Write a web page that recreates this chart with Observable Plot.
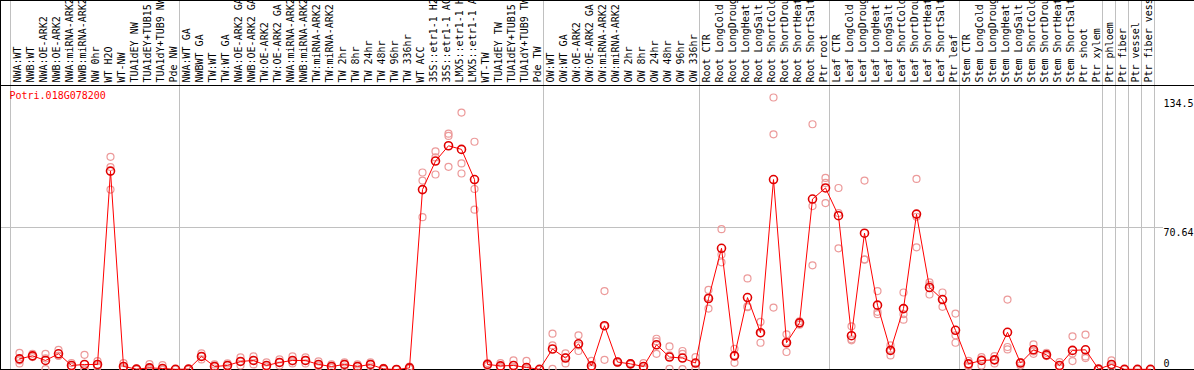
<!DOCTYPE html>
<html><head><meta charset="utf-8">
<script src="https://cdn.jsdelivr.net/npm/d3@7"></script>
<script src="https://cdn.jsdelivr.net/npm/@observablehq/plot@0.6"></script>
<style>body{margin:0;background:#fff} svg{display:block}</style>
</head><body><div id="chart"></div>
<script>
const geneId = "Potri.018G078200";
const labels = ["NWA:WT","NWB:WT","NWA:OE-ARK2","NWB:OE-ARK2","NWA:miRNA-ARK2","NWB:miRNA-ARK2","NW 0hr","WT H2O","WT-NW","TUA1dEY NW","TUA1dEY+TUB15","TUA1dY+TUB9 NW","Pde NW",
"NWA:WT GA","NWBWT GA","TW:WT","TW:WT GA","NWA:OE-ARK2 GA","NWB:OE-ARK2 GA","TW:OE-ARK2","TW:OE-ARK2 GA","NWA:miRNA-ARK2","NWB:miRNA-ARK2","TW:miRNA-ARK2","TW:miRNA-ARK2","TW 2hr","TW 8hr","TW 24hr","TW 48hr","TW 96hr","TW 336hr","WT ACC","35S::etr1-1 H2O","35S::etr1-1 ACC","LMX5::etr1-1 H2O","LMX5::etr1-1 ACC","WT-TW","TUA1dEY TW","TUA1dEY+TUB15","TUA1dY+TUB9 TW","Pde TW",
"OW:WT","OW:WT GA","OW:OE-ARK2","OW:OE-ARK2 GA","OW:miRNA-ARK2","OW:miRNA-ARK2","OW 2hr","OW 8hr","OW 24hr","OW 48hr","OW 96hr","OW 336hr",
"Root CTR","Root LongCold","Root LongDrought","Root LongHeat","Root LongSalt","Root ShortCold","Root ShortDrought","Root ShortHeat","Root ShortSalt","Ptr root",
"Leaf CTR","Leaf LongCold","Leaf LongDrought","Leaf LongHeat","Leaf LongSalt","Leaf ShortCold","Leaf ShortDrought","Leaf ShortHeat","Leaf ShortSalt","Ptr leaf",
"Stem CTR","Stem LongCold","Stem LongDrought","Stem LongHeat","Stem LongSalt","Stem ShortCold","Stem ShortDrought","Stem ShortHeat","Stem ShortSalt","Ptr shoot",
"Ptr xylem","Ptr phloem","Ptr fiber","Ptr vessel","Ptr fiber vessel"];
const meanValues = [5.3,6.8,4.5,7.8,2.0,2.5,2.5,98.7,1.5,0.2,0.8,0.5,0.1,
0.2,6.5,1.5,2,4,4.5,2,3.5,4.5,4.5,2.5,1.5,2.5,1.5,2.5,0.3,0,0.8,89.5,103.7,111.3,109.5,94.5,2.5,1.8,2.0,1.0,0.1,
10.2,5.7,12.8,1.8,21.8,3.7,2.8,1.5,12.3,6.2,5.7,3.2,
35.3,60.3,6.8,35.8,18.3,94.5,13.3,23.2,84.8,90.3,
76.5,16.8,67.8,32,9.5,30.3,77.3,40.8,34.8,19.5,
2.8,4.5,4.8,18.5,3.2,9.8,7.3,2,9.5,9.8,
0.2,2.5,0.1,0.1,0.1];
const rep1 = [8.3,7.8,7.8,9.8,3.2,7.3,4.2,105.8,3.2,0.4,2.7,2.2,0.2,
0.3,8,2.5,3,6,6.5,3.5,5,6.5,6,4,2.5,3.5,2.5,3.5,0.8,0.2,1.5,98,108.5,117.3,127.8,113.3,3.2,3.2,4.5,4.3,0.2,
17.8,8.0,17,4.3,39,4.0,3.2,3.2,15.3,11.5,9.2,6.2,
39.6,69.8,10.3,45.3,23.7,135.3,17.5,24,122,95.3,
90.3,21.5,94,39,12,38.3,94.8,43.3,38.3,27.8,
4.3,6.2,6.7,34.8,3.7,12.5,8.3,3.7,16.5,17.3,
0.3,4.5,0.2,0.1,0.1];
const rep2 = [4.5,6.5,5.5,6.8,1.5,0.2,2.0,100.7,1.0,0.2,0.3,0,0.1,
0.2,6.5,1.5,2,4,4.5,1.5,3.5,4,4.5,2,1,2.5,1.5,2.5,0.2,0,0.6,94,105.5,116.2,102.5,89.8,2.5,1.2,1.0,0.3,0.1,
12,6.0,12,0.8,21.6,3.6,2.8,1.0,14,7,7.8,3.0,
36,57.2,7,31.4,18,117,13.8,23,81.3,92.8,
77.8,15,54.8,28.7,9.5,27.5,76,42,35,17,
2,5,4.7,11.2,3.2,9,7,1.5,8,6.5,
0.2,2,0.1,0.1,0.1];
const rep3 = [3.0,6.2,0.2,6.8,1.3,0,1.3,89.5,0.3,0,0,0,0,
0,5,0.5,1,2,2.5,1,2,3,3,1.5,1,1.5,0.5,1.5,0,0,0.3,75.8,97,100.8,97.5,79.5,1.8,1.0,0.5,0,0,
0.3,3.0,9.2,0.3,4.8,3.4,2.5,0.3,7.8,0.3,0.2,0.3,
30.3,53.3,3.3,31,13.3,30.8,8.7,22.3,51.8,82.8,
60.3,14.5,54.6,27.5,7,24.8,60.8,37.3,31.2,13.3,
1.5,2,3,10,2,7.8,6.7,1,4.2,5.7,
0.1,1,0,0,0];
const groupEnds = [0,13,41,53,63,73,84,85,86,87,88];
const gridValues = [70.64];
const yTicks = [0,70.64,134.5];
const yTickLabels = ["0","70.64","134.5"];
const yMax = 141.28;

const means = labels.map((label,i)=>({i:i+1,label,value:meanValues[i]}));
const reps = [rep1,rep2,rep3].flatMap(r=>r.map((v,i)=>({i:i+1,value:v})));
const ticks = yTicks.map((v,k)=>({v,t:yTickLabels[k]}));
const n = labels.length;
const mono = "DejaVu Sans Mono";

const chart = Plot.plot({
  width:1194, height:370,
  marginTop:0, marginLeft:0, marginRight:0, marginBottom:1,
  style:{fontFamily:mono, background:"white", color:"black"},
  x:{type:"linear", domain:[1,n], range:[19,1150], axis:null},
  y:{type:"linear", domain:[0,yMax], range:[369,85], axis:null},
  marks:[
    Plot.ruleX(groupEnds,{x:d=>d+0.5, dx:-2.5, stroke:"#c0c0c0", strokeWidth:1}),
    Plot.ruleY(gridValues,{x1:()=>-1, x2:()=>n+1, stroke:"#c0c0c0"}),
    Plot.ruleY([yMax],{stroke:"black"}),
    Plot.frame({stroke:"black"}),
    Plot.text(means,{x:"i", y:()=>yMax, text:"label", rotate:-90, textAnchor:"start", lineAnchor:"middle", dx:-1.5, dy:-3, fontSize:10, fill:"black"}),
    Plot.text([geneId],{frameAnchor:"top-left", dx:9, dy:91, textAnchor:"start", lineAnchor:"top", fill:"red", fontSize:10}),
    Plot.text(ticks.filter(d=>d.v>0),{x:()=>n+1, y:"v", text:"t", textAnchor:"start", lineAnchor:"top", dy:1, fontSize:10, fill:"black"}),
    Plot.text(ticks.filter(d=>d.v===0),{x:()=>n+1, y:"v", text:"t", textAnchor:"start", lineAnchor:"bottom", dy:-3, fontSize:10, fill:"black"}),
    Plot.dot(reps,{x:"i", y:"value", r:3.5, stroke:"#ec9a9a", strokeWidth:1.2, fill:"none"}),
    Plot.line(means,{x:"i", y:"value", stroke:"red", strokeWidth:1}),
    Plot.dot(means,{x:"i", y:"value", r:4, stroke:"#e00000", strokeWidth:1.6, fill:"none"})
  ]
});
document.getElementById("chart").appendChild(chart);
</script>
</body></html>
